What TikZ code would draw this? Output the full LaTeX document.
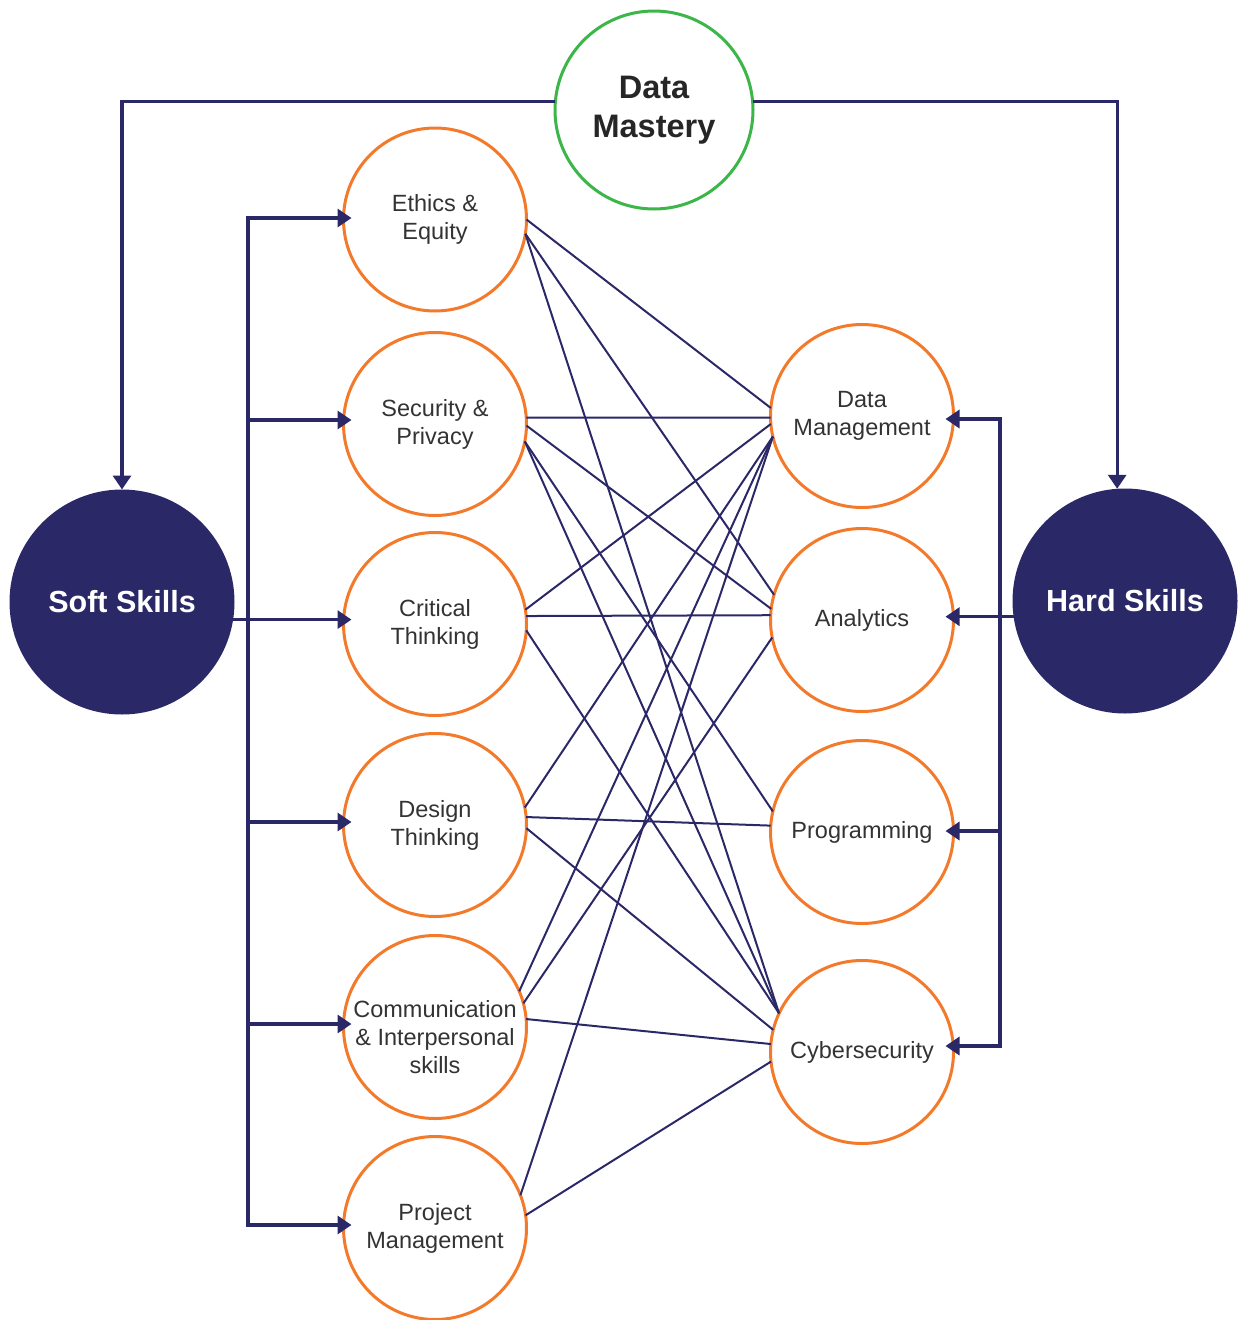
\documentclass[tikz,border=0pt]{standalone}
\usepackage{fontspec}
\setmainfont{Liberation Sans}
\usetikzlibrary{arrows.meta}
\definecolor{navy}{HTML}{2B2868}
\definecolor{orng}{HTML}{F47A2B}
\definecolor{grn}{HTML}{3CB549}
\definecolor{txt}{HTML}{333333}
\begin{document}
\begin{tikzpicture}[x=1pt,y=-1pt,
  skill/.style={circle,draw=orng,fill=white,line width=3pt,minimum size=183pt,inner sep=0pt,outer sep=0pt,align=center,text=txt,font=\fontsize{23.5}{28}\selectfont},
  lbltext/.style={inner sep=0pt,align=center,text=txt,font=\fontsize{23.5}{28}\selectfont},
  hub/.style={circle,fill=navy,minimum size=225pt,inner sep=0pt,outer sep=0pt,text=white,font=\fontsize{30.5}{38}\selectfont\bfseries},
  master/.style={circle,draw=grn,fill=white,line width=3pt,minimum size=198pt,inner sep=0pt,outer sep=0pt,align=center,text=black!85,font=\fontsize{32.5}{39}\selectfont\bfseries},
  link/.style={draw=navy,line width=2pt},
  feed/.style={draw=navy,line width=3.3pt,-{Triangle[length=14pt,width=18pt]}},
  bus/.style={draw=navy,line width=3.3pt,line cap=rect},
]
\useasboundingbox (0,0) rectangle (1237,1320);

% nodes
\node[master] (dm) at (654,110) {Data\\Mastery};
\node[hub] (soft) at (122,602) {Soft Skills};
\node[hub] (hard) at (1125,601) {Hard Skills};

\node[skill] (eth) at (435,219.5) {Ethics \&\\Equity};
\node[skill] (sec) at (435,424) {Security \&\\Privacy};
\node[skill] (crt) at (435,624) {Critical\\Thinking};
\node[skill] (dsg) at (435,825) {Design\\Thinking};
\node[skill] (com) at (435,1027) {};
\node[lbltext] (comtxt) at ([yshift=-10pt]com.center) {Communication\\\& Interpersonal\\skills};
\node[skill] (prj) at (435,1228) {Project\\Management};

\node[skill] (dmg) at (862,416) {Data\\Management};
\node[skill] (ana) at (862,620) {Analytics};
\node[skill] (prg) at (862,832) {Programming};
\node[skill] (cyb) at (862,1052) {Cybersecurity};

% links between skills
\draw[link] (eth.0) -- (dmg.175);
\draw[link] (eth.-9) -- (ana.164);
\draw[link] (eth.-9) -- (cyb.155);
\draw[link] (sec.4) -- (dmg.181);
\draw[link] (sec.-1) -- (ana.173);
\draw[link] (sec.-11) -- (prg.167);
\draw[link] (sec.-11) -- (cyb.155);
\draw[link] (crt.9) -- (dmg.185);
\draw[link] (crt.5.5) -- (ana.177);
\draw[link] (crt.-4) -- (cyb.155);
\draw[link] (dsg.11) -- (dmg.193);
\draw[link] (dsg.5.5) -- (prg.176);
\draw[link] (dsg.-2.5) -- (cyb.166);
\draw[link] (com.23) -- (dmg.193);
\draw[link] (com.15) -- (ana.191);
\draw[link] (com.5.5) -- (cyb.175);
\draw[link] (prj.21) -- (dmg.193);
\draw[link] (prj.8) -- (cyb.186);

% data mastery to hubs
\draw[feed] (dm.175) -| (soft.north);
\draw[feed] (dm.5) -| (hard.94);

% soft skills bus
\coordinate (sb) at (248,0);
\coordinate (aeth) at ([xshift=8pt,yshift=1.5pt]eth.west);
\coordinate (asec) at ([xshift=8pt,yshift=4pt]sec.west);
\coordinate (tc) at (crt.west |- soft.-9);
\coordinate (acrt) at ([xshift=8pt]tc);
\coordinate (adsg) at ([xshift=8pt,yshift=3pt]dsg.west);
\coordinate (acom) at ([xshift=8pt,yshift=3pt]com.west);
\coordinate (aprj) at ([xshift=8pt,yshift=3pt]prj.west);
\draw[bus] (sb |- aeth) -- (sb |- aprj);
\draw[feed] (sb |- aeth) -- (aeth);
\draw[feed] (sb |- asec) -- (asec);
\draw[feed] (soft.-9) -- (acrt);
\draw[feed] (sb |- adsg) -- (adsg);
\draw[feed] (sb |- acom) -- (acom);
\draw[feed] (sb |- aprj) -- (aprj);

% hard skills bus
\coordinate (hb) at (1000,0);
\coordinate (admg) at ([xshift=-8pt,yshift=-3pt]dmg.east);
\coordinate (th) at (ana.east |- hard.188);
\coordinate (aana) at ([xshift=-8pt]th);
\coordinate (aprg) at ([xshift=-8pt,yshift=1pt]prg.east);
\coordinate (acyb) at ([xshift=-8pt,yshift=6pt]cyb.east);
\draw[bus] (hb |- admg) -- (hb |- acyb);
\draw[feed] (hb |- admg) -- (admg);
\draw[feed] (hard.188) -- (aana);
\draw[feed] (hb |- aprg) -- (aprg);
\draw[feed] (hb |- acyb) -- (acyb);
\end{tikzpicture}
\end{document}
